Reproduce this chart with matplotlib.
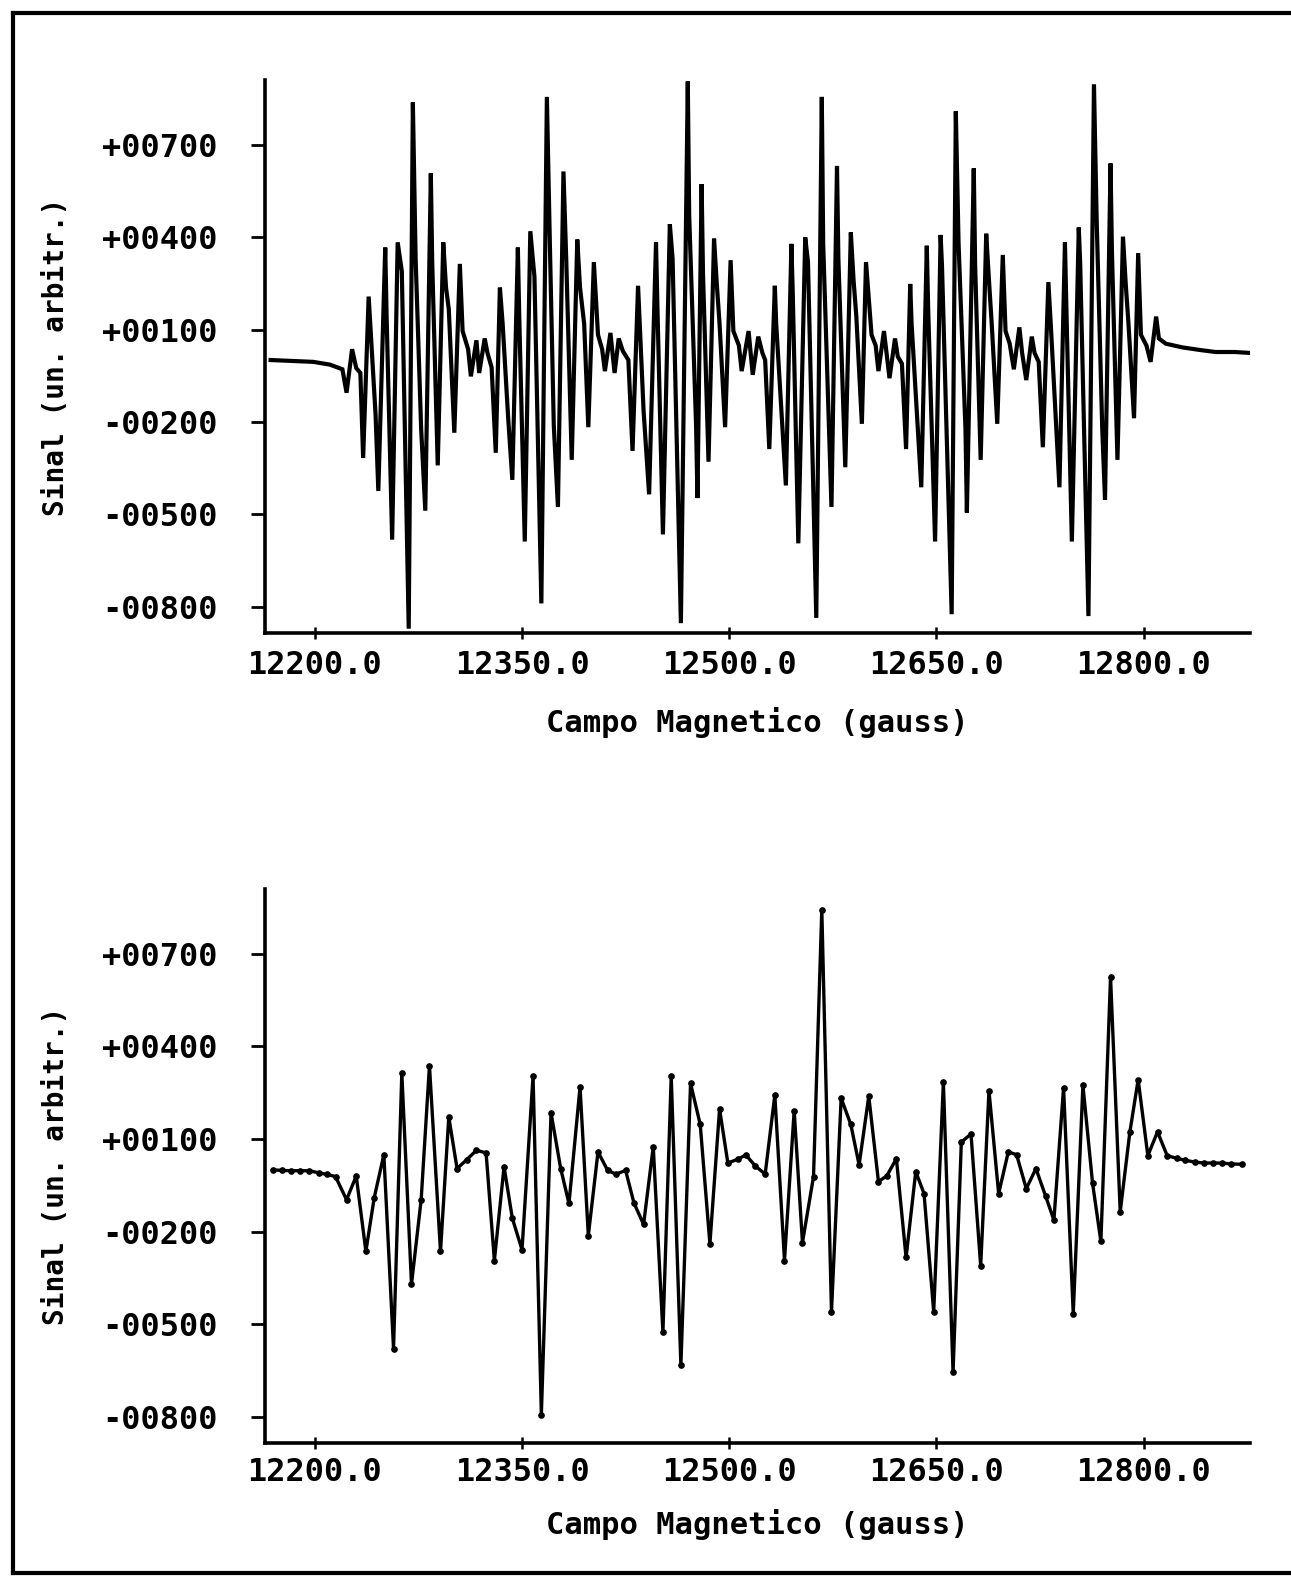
import matplotlib
matplotlib.use("Agg")
import matplotlib.pyplot as plt
from matplotlib.lines import Line2D
from matplotlib.ticker import FuncFormatter

# continuous scan (top)
top_field = [
    12168, 12199, 12211, 12220, 12223, 12227, 12230, 12233, 12235, 12239,
    12244, 12246, 12251, 12252, 12256, 12260, 12263, 12268, 12271, 12273,
    12277, 12280, 12284, 12285, 12289, 12293, 12295, 12297, 12301, 12305,
    12307, 12311, 12313, 12317, 12319, 12323, 12325, 12328, 12331, 12334,
    12336, 12340, 12343, 12347, 12348, 12352, 12356, 12359, 12364, 12368,
    12370, 12373, 12376, 12380, 12382, 12386, 12390, 12392, 12395, 12398,
    12402, 12405, 12408, 12410, 12414, 12417, 12420, 12423, 12427, 12430,
    12434, 12438, 12442, 12447, 12448, 12452, 12457, 12459, 12465, 12470,
    12471, 12476, 12477, 12480, 12481, 12485, 12489, 12491, 12493, 12497,
    12501, 12503, 12507, 12509, 12514, 12517, 12521, 12524, 12526, 12529,
    12533, 12534, 12541, 12545, 12546, 12550, 12555, 12557, 12563, 12567,
    12568, 12574, 12578, 12579, 12584, 12588, 12590, 12592, 12596, 12599,
    12603, 12606, 12608, 12612, 12616, 12620, 12622, 12625, 12628, 12631,
    12632, 12639, 12643, 12644, 12649, 12653, 12654, 12661, 12664, 12666,
    12671, 12672, 12677, 12678, 12682, 12686, 12688, 12690, 12694, 12698,
    12700, 12703, 12706, 12710, 12712, 12715, 12719, 12721, 12724, 12727,
    12731, 12733, 12739, 12743, 12744, 12748, 12753, 12754, 12760, 12764,
    12766, 12770, 12772, 12776, 12777, 12781, 12785, 12787, 12789, 12793,
    12796, 12798, 12802, 12805, 12809, 12811, 12816, 12828, 12840, 12852,
    12866, 12877,
]
top_signal = [
    1, -5, -14, -29, -105, 36, -25, -41, -317, 207,
    -176, -424, 366, 142, -582, 383, 289, -871, 837, 330,
    -223, -488, 607, 319, -341, 383, 236, 166, -235, 313,
    95, 36, -52, 65, -41, 71, 24, -23, -300, 236,
    118, -188, -388, 366, 142, -588, 419, 272, -789, 855,
    413, -211, -476, 613, 330, -323, 392, 236, 118, -217,
    319, 83, 36, -35, 89, -41, 71, 30, 1, -294,
    242, -164, -435, 383, 177, -565, 442, 330, -853, 905,
    472, -211, -447, 572, 283, -329, 395, 248, 118, -217,
    325, 95, 48, -35, 95, -47, 77, 24, 1, -288,
    242, 118, -406, 378, 213, -594, 399, 319, -836, 855,
    378, -476, 631, 330, -347, 415, 260, 142, -206, 319,
    83, 48, -35, 95, -58, 71, 12, -11, -288, 248,
    118, -412, 372, 165, -588, 407, 307, -824, 808, 378,
    -223, -494, 623, 307, -323, 411, 260, 118, -206, 342,
    95, 54, -29, 107, 24, -64, 77, 24, -5, -282,
    254, 95, -412, 383, 177, -588, 431, 319, -830, 896,
    448, -223, -453, 639, 354, -323, 401, 248, 118, -188,
    348, 83, 48, -5, 142, 71, 54, 42, 34, 27,
    27, 24,
]

# sampled scan (bottom)
bot_field = [
    12170, 12176, 12183, 12189, 12196, 12203, 12209, 12215, 12223, 12230,
    12237, 12243, 12250, 12257, 12263, 12270, 12277, 12283, 12291, 12297,
    12303, 12310, 12317, 12324, 12330, 12337, 12343, 12350, 12358, 12364,
    12371, 12378, 12384, 12392, 12398, 12405, 12412, 12418, 12425, 12431,
    12438, 12445, 12452, 12458, 12465, 12472, 12479, 12486, 12493, 12499,
    12506, 12512, 12519, 12526, 12533, 12540, 12547, 12553, 12561, 12567,
    12574, 12581, 12588, 12594, 12601, 12608, 12614, 12621, 12628, 12635,
    12641, 12648, 12655, 12662, 12668, 12675, 12682, 12688, 12695, 12702,
    12708, 12715, 12722, 12729, 12735, 12742, 12749, 12756, 12763, 12769,
    12776, 12783, 12790, 12796, 12803, 12810, 12817, 12824, 12830, 12837,
    12844, 12850, 12857, 12863, 12871,
]
bot_signal = [
    0, -2, -3, -3, -3, -10, -15, -22, -97, -20,
    -264, -91, 49, -579, 313, -371, -97, 337, -264, 171,
    4, 33, 63, 55, -294, 10, -157, -259, 304, -793,
    185, 4, -109, 268, -213, 58, -2, -14, -2, -107,
    -177, 75, -526, 304, -633, 280, 147, -240, 197, 22,
    34, 48, 12, -14, 242, -294, 192, -236, -22, 843,
    -460, 232, 147, 16, 238, -38, -20, 36, -284, -6,
    -77, -460, 284, -656, 90, 116, -311, 256, -77, 58,
    49, -61, 4, -85, -163, 266, -466, 274, -44, -232,
    625, -136, 123, 292, 46, 123, 46, 37, 31, 25,
    22, 22, 22, 19, 18,
]

x_ticks = [12200, 12350, 12500, 12650, 12800]
y_ticks = [-800, -500, -200, 100, 400, 700]

FONT = "DejaVu Sans Mono"
plt.rcParams['font.family'] = [FONT, 'DejaVu Sans']
plt.rcParams['font.weight'] = 'bold'


def style_axes(ax, xlab_y, xpad):
    ax.set_xlim(12164, 12877)
    ax.set_ylim(-885, 910)
    for s in ("top", "right"):
        ax.spines[s].set_visible(False)
    for s in ("left", "bottom"):
        ax.spines[s].set_linewidth(2.6)
    ax.set_xticks(x_ticks)
    ax.set_yticks(y_ticks)
    ax.xaxis.set_major_formatter(FuncFormatter(lambda v, p: "%.1f" % v))
    ax.yaxis.set_major_formatter(FuncFormatter(lambda v, p: "%+06d" % int(round(v))))
    ax.tick_params(axis="y", direction="out", length=10, width=2, pad=24, labelsize=23)
    ax.tick_params(axis="x", direction="inout", length=8, width=1.8, pad=xpad, labelsize=23)
    ax.set_ylabel("Sinal (un. arbitr.)", fontsize=20, fontweight="bold")
    ax.yaxis.set_label_coords(-0.198, 0.5)
    ax.set_xlabel("Campo Magnetico (gauss)", fontsize=22, fontweight="bold", va="center")
    ax.xaxis.set_label_coords(0.5, xlab_y)


fig = plt.figure(figsize=(12.91, 15.77), dpi=100)

ax1 = fig.add_axes([0.2053, 0.5986, 0.763, 0.3507])
ax1.plot(top_field, top_signal, color="black", lw=3.0, solid_joinstyle="miter")
style_axes(ax1, -0.161, 8)

ax2 = fig.add_axes([0.2053, 0.085, 0.763, 0.3513])
ax2.plot(bot_field, bot_signal, color="black", lw=2.4, marker="o", ms=3.8)
style_axes(ax2, -0.148, 6)

# frame of the scanned sheet (right edge is cut off)
W, H = 1291.0, 1577.0
x0, y0, y1 = 13 / W, 1 - 13 / H, 1 - 1573 / H
for xs, ys in (([x0, x0], [y0, y1]), ([x0, 1], [y0, y0]), ([x0, 1], [y1, y1])):
    fig.add_artist(Line2D(xs, ys, color="black", lw=3, transform=fig.transFigure))

fig.savefig("out.png", dpi=100, facecolor="white")
